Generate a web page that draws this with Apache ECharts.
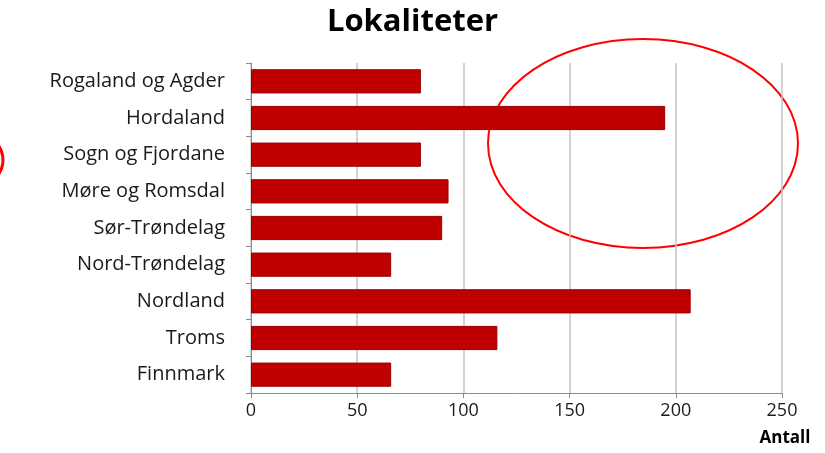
<!DOCTYPE html>
<html>
<head>
<meta charset="utf-8">
<script src="https://cdn.jsdelivr.net/npm/echarts@6/dist/echarts.min.js"></script>
<style>
	html,body{margin:0;padding:0;background:#fff;}
	#main{width:825px;height:453px;}
</style>
</head>
<body>
<div id="main"></div>
<script>
	// data, top to bottom
	var regions = ['Rogaland og Agder', 'Hordaland', 'Sogn og Fjordane', 'Møre og Romsdal',
		'Sør-Trøndelag', 'Nord-Trøndelag', 'Nordland', 'Troms', 'Finnmark']
	var antall = [80, 195, 80, 93, 90, 66, 207, 116, 66]
	var xTicks = [0, 50, 100, 150, 200, 250]

	var mychart = echarts.init(document.getElementById('main'))
	var font = '"Open Sans", Lato, sans-serif'

	var option = {
		animation: false,
		title: {
			text: 'Lokaliteter',
			left: 'center',
			top: 2,
			textStyle: { fontSize: 31, fontWeight: 'bold', color: '#000', fontFamily: font }
		},
		grid: { left: 251, right: 43, top: 63, bottom: 60 },
		xAxis: {
			type: 'value',
			min: xTicks[0],
			max: xTicks[xTicks.length - 1],
			interval: 50,
			name: 'Antall',
			nameLocation: 'end',
			nameGap: 0,
			nameTextStyle: {
				fontSize: 17, fontWeight: 'bold', color: '#000', fontFamily: font,
				align: 'center', verticalAlign: 'top', padding: [37, 0, 0, 6]
			},
			axisLine: { show: true, lineStyle: { color: '#8c8c8c', width: 1 } },
			axisTick: { show: true, length: 5, inside: false, lineStyle: { color: '#8c8c8c' } },
			axisLabel: { fontSize: 18, color: '#1a1a1a', margin: 9, fontFamily: font },
			splitLine: { show: true, lineStyle: { color: '#c4c4c4', width: 1.5 } }
		},
		yAxis: {
			type: 'category',
			inverse: true,
			data: regions,
			axisLine: { show: true, lineStyle: { color: '#8c8c8c', width: 1 } },
			axisTick: { show: true, length: 5, lineStyle: { color: '#8c8c8c' } },
			axisLabel: { fontSize: 20, color: '#1a1a1a', margin: 26, fontFamily: font }
		},
		series: [{
			type: 'bar',
			data: antall,
			barCategoryGap: '34%',
			itemStyle: { color: '#c00000', borderColor: '#9a0000', borderWidth: 1 }
		}],
		graphic: [
			{
				type: 'ellipse',
				shape: { cx: 643, cy: 143.5, rx: 155, ry: 104.5 },
				style: { fill: 'none', stroke: '#ff0000', lineWidth: 2 }
			},
			{
				type: 'ellipse',
				shape: { cx: -150, cy: 160, rx: 153, ry: 60 },
				style: { fill: 'none', stroke: '#ff0000', lineWidth: 3 }
			}
		]
	}

	mychart.setOption(option)
</script>
</body>
</html>
